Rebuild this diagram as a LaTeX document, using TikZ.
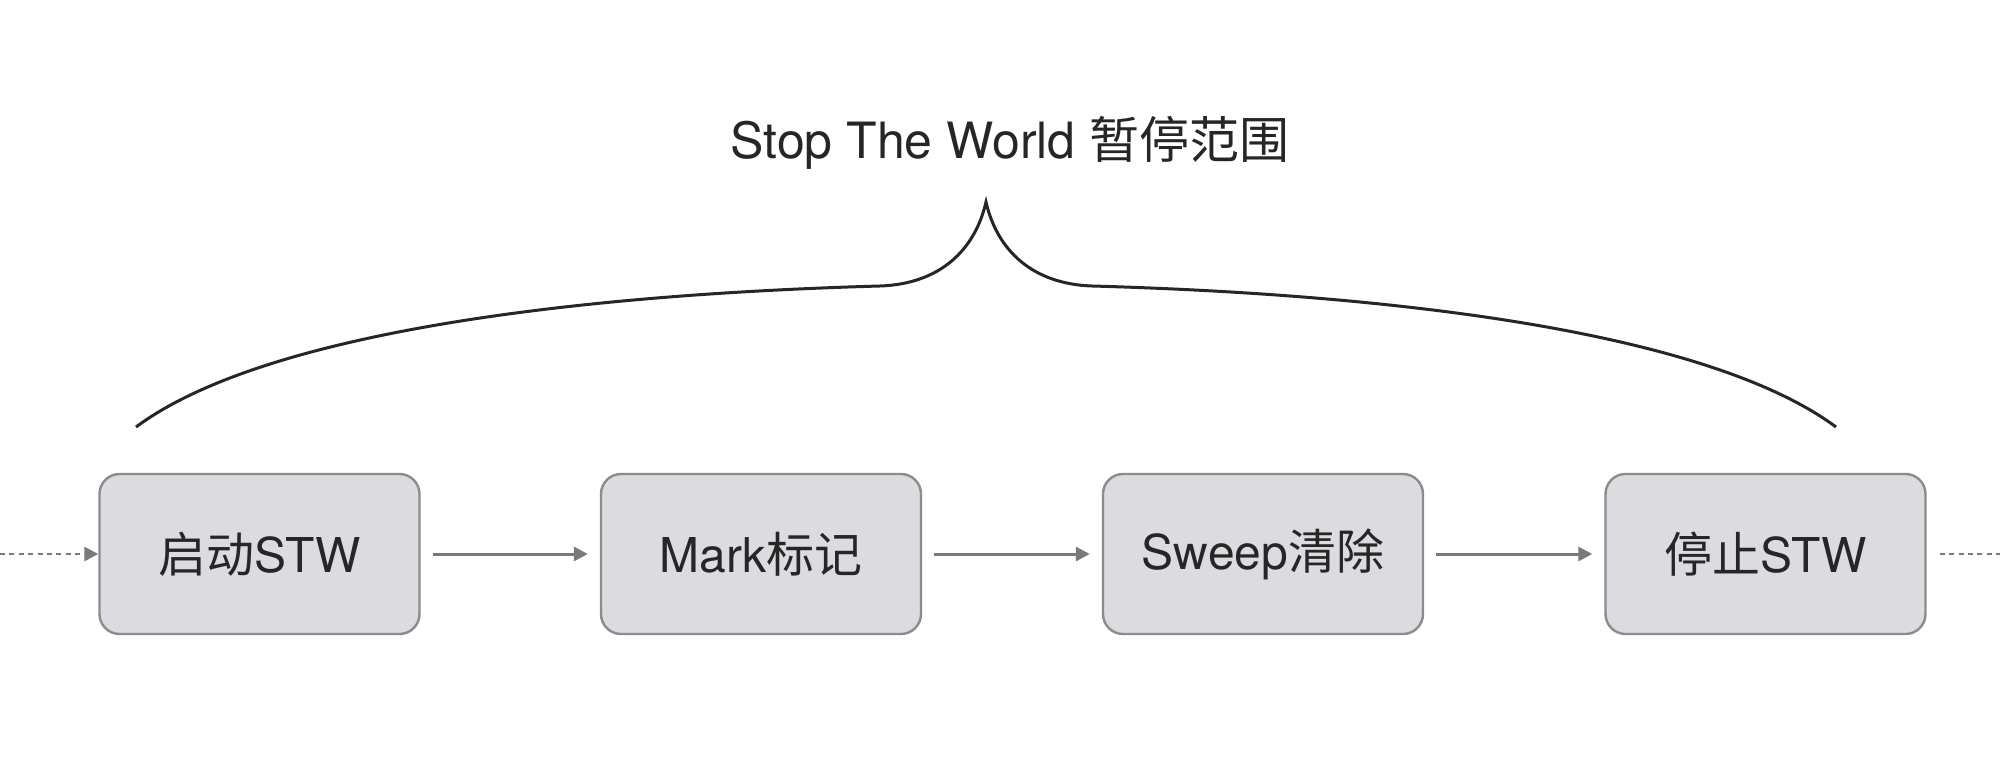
\documentclass[tikz,border=0pt]{standalone}
\usepackage{fontspec}
\setmainfont{TeX Gyre Heros}
\newfontfamily\cjk{Noto Sans CJK SC}
\usetikzlibrary{arrows.meta}
\definecolor{boxfill}{HTML}{DCDBE0}
\definecolor{boxline}{HTML}{8C8C8E}
\definecolor{arrowgray}{HTML}{7A7A7A}
\definecolor{txt}{HTML}{262626}
\tikzset{
  stepbox/.style={draw=boxline, line width=1.2pt, fill=boxfill, rounded corners=10pt,
    minimum width=160pt, minimum height=80pt, inner sep=0pt, text=txt,
    font=\fontsize{24}{28}\selectfont},
  flow/.style={draw=arrowgray, line width=1.5pt, -{Triangle[length=7pt,width=7pt]},
    shorten <=6pt, shorten >=6pt},
  dotflow/.style={draw=arrowgray, line width=1.4pt, dash pattern=on 2.5pt off 2.2pt},
  brace/.style={draw=black!85, line width=1.5pt},
  title/.style={text=txt, font=\fontsize{25}{30}\selectfont, inner sep=0pt}
}
\begin{document}
\begin{tikzpicture}[x=0.5pt,y=-0.5pt]
  \useasboundingbox[fill=white] (0,0) rectangle (2000,764);
  \node[stepbox] (b1) at (259.5,554) {{\cjk 启动}STW};
  \node[stepbox] (b2) at (761,554) {Mark{\cjk 标记}};
  \node[stepbox] (b3) at (1263,554) {Sweep{\cjk 清除}};
  \node[stepbox] (b4) at (1765.5,554) {{\cjk 停止}STW};
  \draw[flow] (b1) -- (b2);
  \draw[flow] (b2) -- (b3);
  \draw[flow] (b3) -- (b4);
  \coordinate (lin) at (0,554);
  \coordinate (rout) at (2000,554);
  \draw[dotflow, -{Triangle[length=7pt,width=7pt]}] (lin) -- (b1.west);
  \draw[dotflow, shorten <=6.5pt] (b4.east) -- (rout);
  \coordinate (bl) at (136,427);
  \coordinate (br) at (1836,427);
  \coordinate (peak) at (986,202);
  \draw[brace] (bl) .. controls (260,335) and (560,295) .. (880,286)
     .. controls (940,284) and (975,250) .. (peak)
     .. controls (997,250) and (1032,284) .. (1092,286)
     .. controls (1412,295) and (1712,335) .. (br);
  \node[title] (t) at (1010,143) {Stop The World {\cjk 暂停范围}};
\end{tikzpicture}
\end{document}
